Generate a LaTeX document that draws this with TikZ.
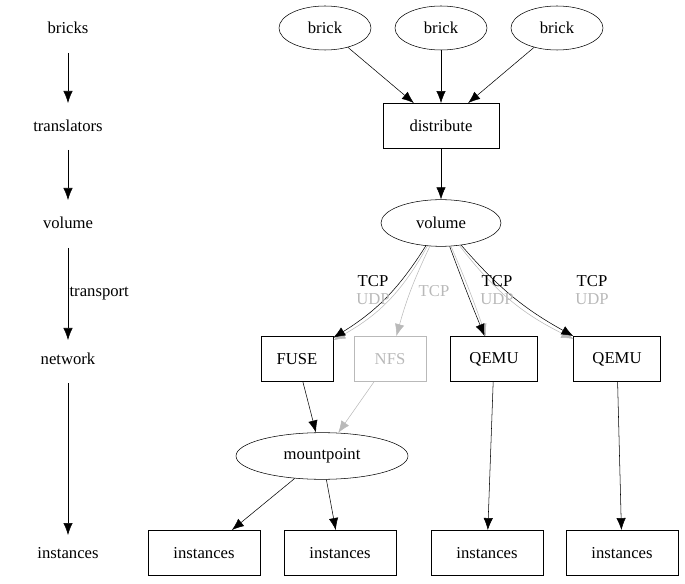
\documentclass[tikz,border=0pt]{standalone}
\usepackage{fontspec}
\setmainfont{Liberation Serif}
\usetikzlibrary{arrows.meta,shapes.geometric}
\tikzset{
  box/.style={draw,minimum width=#1,minimum height=34pt,inner sep=0pt},
  oval/.style={draw,ellipse,minimum width=#1,minimum height=33pt,inner sep=0pt},
  lbl/.style={inner sep=0pt},
  dim/.style={gray!55},
  arr/.style={-{Latex[length=9pt,width=7pt]}}
}
\begin{document}
\begin{tikzpicture}[x=0.75pt,y=-0.75pt,font=\fontsize{12.5}{15}\selectfont]
\useasboundingbox (0,0) rectangle (685,584);
% left column
\node[lbl] (lb) at (68,28) {bricks};
\node[lbl] (lt) at (68,126) {translators};
\node[lbl] (lv) at (68,223) {volume};
\node[lbl] (ln) at (68,359) {network};
\node[lbl] (li) at (68,553) {instances};
\coordinate (c1) at (68,53); \coordinate (c2) at (68,103);
\coordinate (c3) at (68,150); \coordinate (c4) at (68,200);
\coordinate (c5) at (68,248); \coordinate (c6) at (68,340);
\coordinate (c7) at (68,383); \coordinate (c8) at (68,535);
\draw[arr] (c1) -- (c2);
\draw[arr] (c3) -- (c4);
\draw[arr] (c5) -- node[right,lbl,xshift=1pt] {transport} (c6);
\draw[arr] (c7) -- (c8);
% graph
\node[oval=69pt] (b1) at (325,28) {brick};
\node[oval=69pt] (b2) at (441,28) {brick};
\node[oval=69pt] (b3) at (557,28) {brick};
\node[box=87pt] (dist) at (441,126) {distribute};
\node[oval=90pt,minimum height=35pt] (vol) at (441,223) {volume};
\node[box=54pt] (fuse) at (297,359) {FUSE};
\node[box=54pt,draw=gray!55,text=gray!55] (nfs) at (390,359) {NFS};
\node[box=65pt] (q1) at (494,359) {QEMU};
\node[box=65pt] (q2) at (617,359) {QEMU};
\node[oval=129pt,minimum height=35pt] (mp) at (322,456) {mountpoint};
\node[box=84pt] (i1) at (204,553) {instances};
\node[box=84pt] (i2) at (340,553) {instances};
\node[box=84pt] (i3) at (487,553) {instances};
\node[box=84pt] (i4) at (622,553) {instances};
\foreach \b in {b1,b2,b3} \draw[arr] (\b) -- (dist);
\draw[arr] (dist) -- (vol);
\draw[arr,dim] (vol) to[bend left=16] (fuse);
\draw[arr] (vol) to[bend left=13] (fuse);
\draw[arr,dim] (vol) to[bend right=5] (nfs);
\draw[arr,dim] (vol) to[bend left=2] (q1);
\draw[arr] (vol) to[bend right=1] (q1);
\draw[arr,dim] (vol) to[bend right=13] (q2);
\draw[arr] (vol) to[bend right=10] (q2);
\node[lbl] at (373,281) {TCP};
\node[lbl,dim] at (373,299) {UDP};
\node[lbl,dim] at (434,291) {TCP};
\node[lbl] at (497,281) {TCP};
\node[lbl,dim] at (497,299) {UDP};
\node[lbl] at (592,281) {TCP};
\node[lbl,dim] at (592,299) {UDP};
\draw[arr] (fuse) -- (mp);
\draw[arr,dim] (nfs) -- (mp);
\draw[arr] (mp) -- (i1);
\draw[arr] (mp) -- (i2);
\draw[arr] (q1) -- (i3);
\draw[arr] (q2) -- (i4);
\end{tikzpicture}
\end{document}
